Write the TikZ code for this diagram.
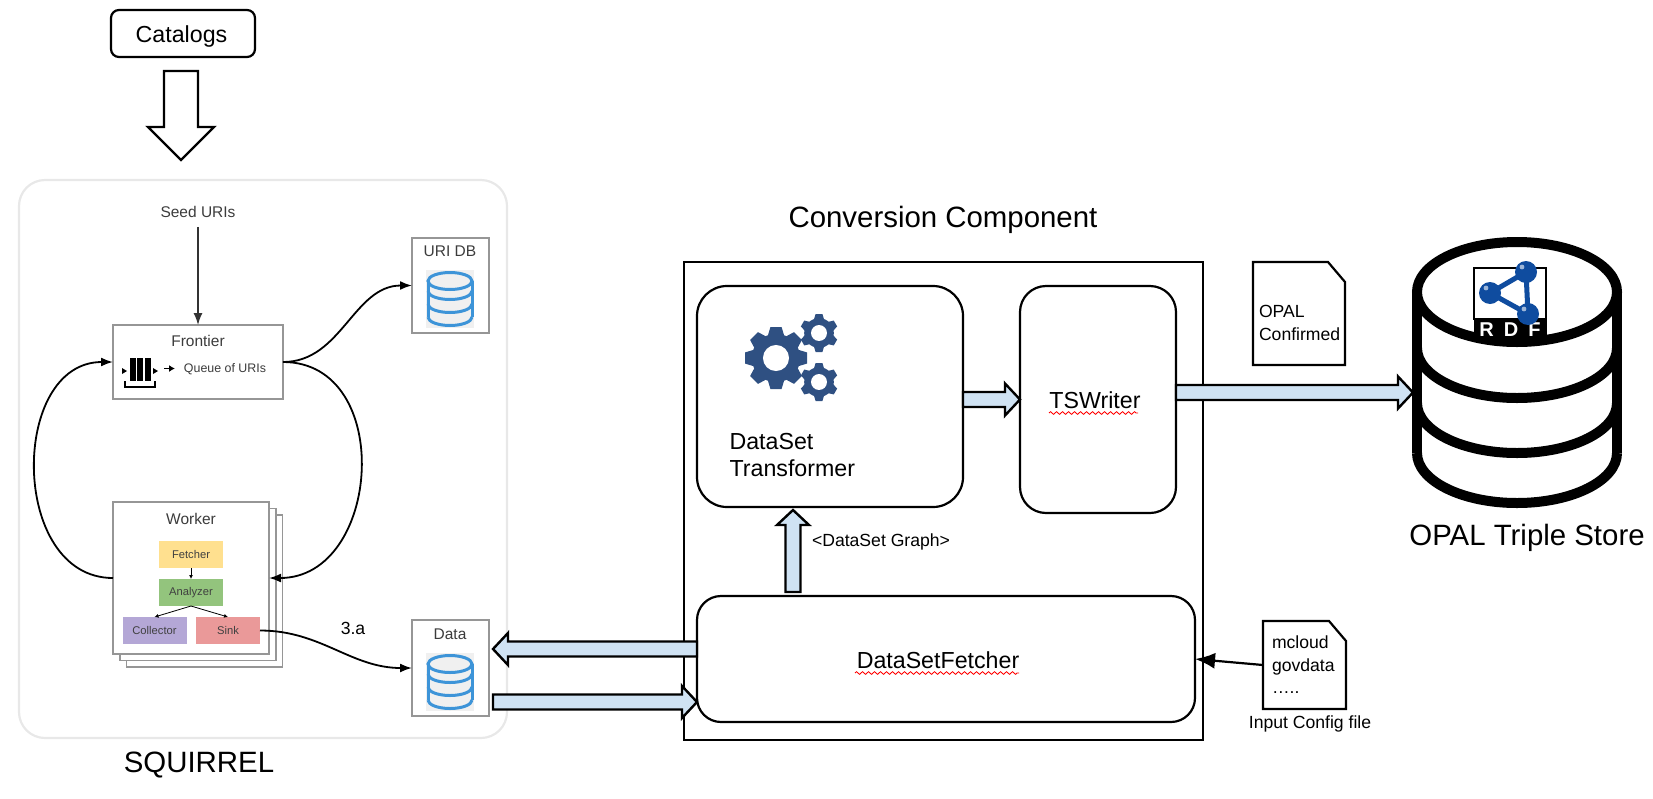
\documentclass[tikz,border=0pt]{standalone}
\usepackage{fontspec}
\setmainfont{Liberation Sans}
\usepackage{tikz}
\usetikzlibrary{arrows.meta, positioning, calc, decorations.pathmorphing}

\definecolor{arrowblue}{RGB}{207,226,243}
\definecolor{gearblue}{RGB}{47,80,130}
\definecolor{dbblue}{RGB}{61,148,216}
\definecolor{rdfblue}{RGB}{15,76,159}
\definecolor{panelgray}{RGB}{232,232,232}
\definecolor{boxgray}{RGB}{150,150,150}
\definecolor{labelgray}{RGB}{60,60,60}
\definecolor{fetcheryellow}{RGB}{255,224,143}
\definecolor{analyzergreen}{RGB}{147,196,125}
\definecolor{collectorpurple}{RGB}{180,167,214}
\definecolor{sinkred}{RGB}{234,153,153}

\tikzset{
  bigtext/.style={font=\fontsize{14.7pt}{17pt}\selectfont},
  midtext/.style={font=\fontsize{11.6pt}{13.5pt}\selectfont},
  smalltext/.style={font=\fontsize{8.8pt}{11.3pt}\selectfont},
  graytext/.style={font=\fontsize{7.75pt}{9pt}\selectfont, text=labelgray},
  tinytext/.style={font=\fontsize{5.6pt}{7pt}\selectfont, text=black!75},
  plainbox/.style={draw, line width=1.1pt, inner sep=0pt, outer sep=0pt},
  grayframe/.style={draw=boxgray, line width=0.8pt, fill=white, inner sep=0pt, outer sep=0pt},
  stepcolor/.style={fill=#1, inner sep=0pt, outer sep=0pt, minimum width=32pt, minimum height=13.5pt},
  filebox/.style={inner ysep=0pt, outer sep=0pt, align=left, smalltext},
  curvelink/.style={line width=0.9pt, -{Latex[length=6pt,width=4.5pt]}},
  minilink/.style={line width=0.4pt, -{Latex[length=2pt,width=2pt]}},
  squiggle/.style={red, line width=0.4pt, decorate, decoration={zigzag, amplitude=0.7pt, segment length=3pt}},
  blockarrow/.style n args={3}{draw, line width=1.2pt, line join=miter,
    to path={
      ($(\tikztotarget)!#3!(\tikztostart)$) coordinate (hb)
      ($(\tikztostart)!#1!90:(\tikztotarget)$) -- ($(hb)!#1!90:(\tikztotarget)$)
      -- ($(hb)!#2!90:(\tikztotarget)$) -- (\tikztotarget)
      -- ($(hb)!#2!-90:(\tikztotarget)$) -- ($(hb)!#1!-90:(\tikztotarget)$)
      -- ($(\tikztostart)!#1!-90:(\tikztotarget)$) -- cycle
    }},
  flowarrow/.style={blockarrow={3.75pt}{8pt}{7.5pt}, fill=arrowblue},
  dbicon/.pic={
    \fill[black!6] (-24,-29) rectangle (24,29);
    \draw[dbblue, line width=1.5pt] (0,-18) ellipse (11pt and 4.25pt);
    \draw[dbblue, line width=1.5pt] (-22,-18) -- (-22,18) (22,-18) -- (22,18);
    \foreach \cy in {-8,5,18}{
      \draw[dbblue, line width=1.5pt] (-22,\cy) arc[start angle=180, end angle=360, x radius=11pt, y radius=4.25pt];
    }
  }
}

% x, y, outer radius, number of teeth
\newcommand{\gearicon}[4]{
  \fill[gearblue] (#1,#2) circle ({0.78*#3});
  \foreach \g in {1,...,#4}{
    \pgfmathsetmacro{\ga}{360*\g/#4}
    \fill[gearblue, shift={(#1,#2)}, rotate=\ga]
      ({-0.27*#3},{0.7*#3}) -- ({-0.18*#3},{#3}) -- ({0.18*#3},{#3}) -- ({0.27*#3},{0.7*#3}) -- cycle;
  }
  \fill[white] (#1,#2) circle ({0.42*#3});
}

% cut corner of a file shape
\newcommand{\filecorner}[1]{
  \draw[line width=1.1pt, line join=miter] (#1.north west) -- ($(#1.north east)+(-17,0)$)
    -- ($(#1.north east)+(0,20)$) -- (#1.south east) -- (#1.south west) -- cycle;
}

\begin{document}
\begin{tikzpicture}[x=0.5pt, y=-0.5pt]
  \useasboundingbox (0,0) rectangle (1653,798);

  % Catalogs input
  \node[plainbox, rounded corners=4pt, minimum width=72pt, minimum height=23.5pt] (catalogs) at (183,33.5) {};
  \node[midtext] (catalogslabel) at (181.5,36.5) {Catalogs};
  \coordinate (catfrom) at (181,71);
  \coordinate (cattip) at (181,160);
  \draw[blockarrow={8.5pt}{16.5pt}{16.5pt}, fill=white] (catfrom) to (cattip);

  % SQUIRREL panel
  \node[draw=panelgray, line width=1.1pt, rounded corners=13pt, minimum width=244pt, minimum height=279pt, inner sep=0pt] (panel) at (263,459) {};
  \node[bigtext] (squirrel) at (199,765) {SQUIRREL};

  \node[graytext] (seed) at (198,212) {Seed URIs};

  % Frontier
  \node[grayframe, minimum width=85pt, minimum height=37pt] (frontier) at (198,362) {};
  \node[graytext] (frontierlabel) at (198,341) {Frontier};
  \node[font=\fontsize{6.2pt}{7pt}\selectfont, text=labelgray] (queuelabel) at (225,369) {Queue of URIs};
  \foreach \bx in {129.5,137,144.5}{
    \fill (\bx,358) rectangle ++(6,23);
  }
  \fill (122,368) -- (127,371) -- (122,374) -- cycle;
  \fill (153,368) -- (158,371) -- (153,374) -- cycle;
  \draw[line width=1.3pt] (125,381) -- (125,387) -- (155,387) -- (155,381);
  \coordinate (queuefrom) at (164,368.5);
  \coordinate (queueto) at (175,368.5);
  \draw[line width=0.8pt, -{Latex[length=3pt,width=3.5pt]}] (queuefrom) -- (queueto);

  % Worker stack
  \node[grayframe, minimum width=78pt, minimum height=76pt] (workerc) at (204.5,591) {};
  \node[grayframe, minimum width=78pt, minimum height=76pt] (workerb) at (198,584.5) {};
  \node[grayframe, minimum width=78pt, minimum height=76pt] (worker) at (191,578) {};
  \node[graytext] (workerlabel) at (191,519) {Worker};
  \node[stepcolor=fetcheryellow, tinytext] (fetcher) at (191,554.5) {Fetcher};
  \node[stepcolor=analyzergreen, tinytext] (analyzer) at (191,592.5) {Analyzer};
  \node[stepcolor=collectorpurple, tinytext] (collector) at (154.5,630.5) {Collector};
  \node[stepcolor=sinkred, tinytext] (sink) at (228,630.5) {Sink};
  \draw[minilink] (fetcher) -- (analyzer);
  \draw[minilink] (analyzer.south) -- (collector.north);
  \draw[minilink] (analyzer.south) -- (sink.north);

  % Stores of the crawler
  \node[grayframe, minimum width=38.5pt, minimum height=47.5pt] (uridb) at (450.5,285.5) {};
  \node[graytext] (uridblabel) at (450,251) {URI DB};
  \pic at (450,299) {dbicon};
  \node[grayframe, minimum width=38.5pt, minimum height=48pt] (data) at (450.5,668) {};
  \node[graytext] (datalabel) at (450,634) {Data};
  \pic at (450,682) {dbicon};

  % Crawler links
  \draw[line width=0.7pt, shorten <=1pt, -{Latex[length=6pt,width=4.5pt]}, black!80] (seed.south) -- (frontier.north);
  \draw[curvelink] (frontier.east) to[out=0, in=180] (uridb.west);
  \draw[curvelink] (frontier.east) to[out=0, in=0, looseness=1.33] (worker.east);
  \draw[curvelink] (worker.west) to[out=180, in=180, looseness=1.23] (frontier.west);
  \draw[curvelink] (sink.east) to[out=0, in=180] (data.west);
  \node[smalltext] (threea) at (353,628) {3.a};

  % Conversion component
  \node[bigtext] (conversion) at (943,220) {Conversion Component};
  \node[plainbox, minimum width=259.5pt, minimum height=239pt] (component) at (943.5,501) {};
  \node[plainbox, rounded corners=15pt, minimum width=133pt, minimum height=110.5pt] (transformer) at (830,396.5) {};
  \node[plainbox, rounded corners=13pt, minimum width=78pt, minimum height=113.5pt] (tswriter) at (1098,399.5) {};
  \node[plainbox, rounded corners=12pt, minimum width=249pt, minimum height=63pt] (dsfetcher) at (946,659) {};

  % Gears
  \gearicon{776}{358}{31}{8}
  \gearicon{819}{333}{19}{6}
  \gearicon{819}{382}{19}{6}

  \node[midtext, align=left, anchor=west] (tflabel) at (722.5,455) {DataSet\\Transformer};
  \node[midtext] (tswlabel) at (1095,400) {TSWriter};
  \node[midtext] (dsflabel) at (938,660) {DataSetFetcher};
  \coordinate (tswa) at (1049,413);
  \coordinate (tswb) at (1138,413);
  \coordinate (dsfa) at (855,673);
  \coordinate (dsfb) at (1019,673);
  \draw[squiggle] (tswa) -- (tswb);
  \draw[squiggle] (dsfa) -- (dsfb);
  \node[smalltext] (graphlabel) at (881,542) {<DataSet Graph>};

  % Triple store
  \draw[line width=5pt] (1517,292) ellipse (50pt and 25pt);
  \draw[line width=5pt] (1417,292) -- (1417,453) (1617,292) -- (1617,453);
  \foreach \cy in {348,403,453}{
    \draw[line width=5pt] (1417,\cy) arc[start angle=180, end angle=360, x radius=50pt, y radius=25pt];
  }
  \node[bigtext] (storelabel) at (1527,538) {OPAL Triple Store};

  % RDF logo
  \fill[white] (1474,268) rectangle (1546,319);
  \draw[line width=0.6pt] (1474,268) rectangle (1546,319);
  \fill (1473.5,319) rectangle (1546.5,340);
  \node[text=white, font=\bfseries\fontsize{10pt}{12pt}\selectfont] (rdflabel) at (1510,330) {R\hspace{5pt}D\hspace{5pt}F};
  \coordinate (rdfa) at (1490,293);
  \coordinate (rdfb) at (1526,272);
  \coordinate (rdfc) at (1528,314);
  \draw[rdfblue, line width=2.5pt, line join=round] (rdfa) -- (rdfb) -- (rdfc) -- cycle;
  \fill[rdfblue] (rdfa) circle (5.5pt) (rdfb) circle (5.5pt) (rdfc) circle (5.5pt);
  \foreach \nd in {rdfa,rdfb,rdfc}{
    \fill[white, opacity=0.6] ($(\nd)+(-4,-5)$) circle (1.2pt);
  }

  % Block arrows
  \coordinate (upfrom) at (793,592);
  \coordinate (uptip) at (793,510);
  \coordinate (dataout) at (493,649);
  \coordinate (datain) at (493,702);
  \coordinate (storein) at (1413,392.5);
  \draw[flowarrow] (transformer.east |- tswriter.west) to (tswriter.west);
  \draw[flowarrow] (tswriter.east |- storein) to (storein);
  \draw[flowarrow] (upfrom) to (uptip);
  \draw[flowarrow] (dsfetcher.west |- dataout) to (dataout);
  \draw[flowarrow] (datain) to (dsfetcher.west |- datain);
  \draw[plainbox] (dsfetcher.west |- dataout) -- (dsfetcher.west |- datain);

  % Files
  \node[filebox, minimum width=46pt, minimum height=51.5pt] (confirmed) at (1299,313.5) {};
  \filecorner{confirmed}
  \node[filebox, inner xsep=0pt, anchor=west] (confirmedlabel) at (1259,323) {OPAL\\Confirmed};
  \node[filebox, inner xsep=4.5pt, text width=32.5pt, minimum height=44pt] (config) at (1304.5,665) {mcloud\\govdata\\…..};
  \filecorner{config}
  \node[smalltext] (configlabel) at (1310,724) {Input Config file};
  \draw[line width=1.1pt, -{Latex[length=10pt,width=8pt]}] (config.west) -- (dsfetcher.east);
\end{tikzpicture}
\end{document}
